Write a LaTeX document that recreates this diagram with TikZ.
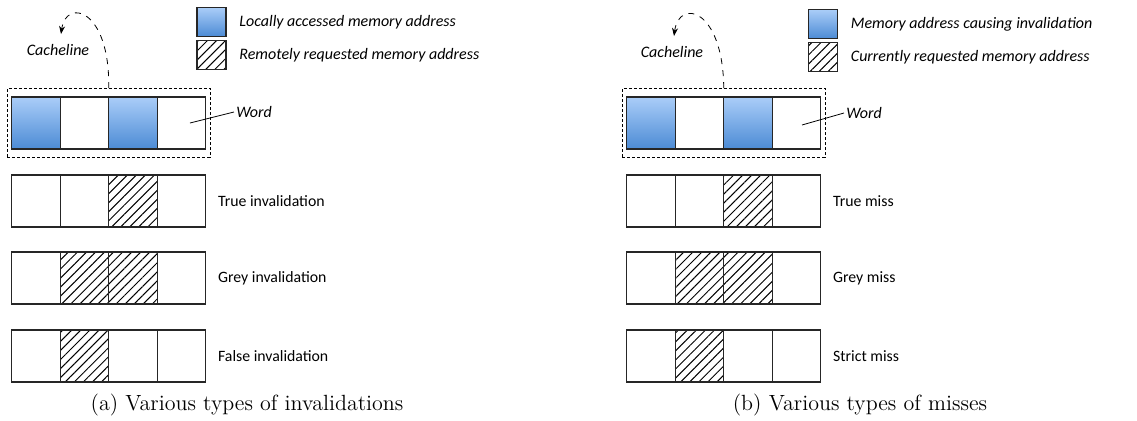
\documentclass[tikz,border=0pt]{standalone}
\usepackage{fontspec}
\newfontfamily\calfont{Carlito}
\usetikzlibrary{arrows.meta,positioning,fit,patterns.meta}

\definecolor{cellhi}{HTML}{AACDF8}
\definecolor{celllo}{HTML}{4C8BD5}

\tikzset{
  wordcell/.style = {draw=black!85, line width=0.6pt, minimum width=24.25pt,
                     minimum height=26pt, inner sep=0pt, outer sep=0pt},
  wlocal/.style   = {top color=cellhi, bottom color=celllo},
  wplain/.style   = {fill=white},
  wremote/.style  = {pattern={Lines[angle=45,distance=3.2pt,line width=0.5pt]}},
  linebox/.style  = {draw, dash pattern=on 1.5pt off 1pt, line width=0.5pt,
                     inner xsep=2.2pt, inner ysep=4.2pt},
  keybox/.style   = {wordcell, minimum width=14.5pt, minimum height=14.5pt},
  note/.style     = {font=\calfont\itshape\fontsize{8}{9.6}\selectfont, inner sep=1pt},
  rowlbl/.style   = {font=\calfont\fontsize{7.9}{9.5}\selectfont, inner sep=1pt},
  subcap/.style   = {font=\fontsize{11}{13}\selectfont},
}

\begin{document}
\begin{tikzpicture}[x=0.5pt, y=-0.5pt, node distance=0pt]
\useasboundingbox (0,0) rectangle (1137,420);

% four words per cacheline, in both panels
\foreach \p/\x in {a/36, b/651}{
  \foreach \r/\y/\sa/\sb/\sc/\sd in {1/123/wlocal/wplain/wlocal/wplain,
                                     2/201/wplain/wplain/wremote/wplain,
                                     3/278/wplain/wremote/wremote/wplain,
                                     4/356/wplain/wremote/wplain/wplain}{
    \node[wordcell,\sa]                (\p\r1) at (\x,\y) {};
    \node[wordcell,\sb,right=of \p\r1] (\p\r2) {};
    \node[wordcell,\sc,right=of \p\r2] (\p\r3) {};
    \node[wordcell,\sd,right=of \p\r3] (\p\r4) {};
  }
}

% (a) invalidations
\node[linebox, fit=(a11)(a14)]   (aline)   {};
\node[note] (acache) at (58,50)  {Cacheline};
\coordinate (acurl) at (61,34);
\draw[dashed, -{Stealth[length=4pt,width=3pt]}] (aline.north) .. controls (110,8) and (66,-2) .. (acurl);
\node[note, anchor=west] (aword) at (234,112) {Word};
\coordinate (awordpt) at (190,123);
\draw (awordpt) -- (aword.west);

\node[keybox, wlocal]  (akeyloc) at (211.5,22) {};
\node[keybox, wremote] (akeyrem) at (211.5,55) {};
\node[note, right=5.5pt of akeyloc] (aloctext) {Locally accessed memory address};
\node[note, right=5.5pt of akeyrem] (aremtext) {Remotely requested memory address};

\node[rowlbl, right=5pt of a24] (atrue)  {True invalidation};
\node[rowlbl, right=5pt of a34] (agrey)  {Grey invalidation};
\node[rowlbl, right=5pt of a44] (afalse) {False invalidation};
\node[subcap] (acap) at (247,405) {(a) Various types of invalidations};

% (b) misses
\node[linebox, fit=(b11)(b14)]   (bline)   {};
\node[note] (bcache) at (672,52) {Cacheline};
\coordinate (bcurl) at (674,36);
\draw[dashed, -{Stealth[length=4pt,width=3pt]}] (bline.north) .. controls (723,8) and (679,-2) .. (bcurl);
\node[note, anchor=west] (bword) at (844,113) {Word};
\coordinate (bwordpt) at (802,125);
\draw (bwordpt) -- (bword.west);

\node[keybox, wlocal]  (bkeyloc) at (823,24) {};
\node[keybox, wremote] (bkeyrem) at (823,57) {};
\node[note, right=5.5pt of bkeyloc] (bloctext) {Memory address causing invalidation};
\node[note, right=5.5pt of bkeyrem] (bremtext) {Currently requested memory address};

\node[rowlbl, right=5pt of b24] (btrue)   {True miss};
\node[rowlbl, right=5pt of b34] (bgrey)   {Grey miss};
\node[rowlbl, right=5pt of b44] (bstrict) {Strict miss};
\node[subcap] (bcap) at (860,405) {(b) Various types of misses};
\end{tikzpicture}
\end{document}
